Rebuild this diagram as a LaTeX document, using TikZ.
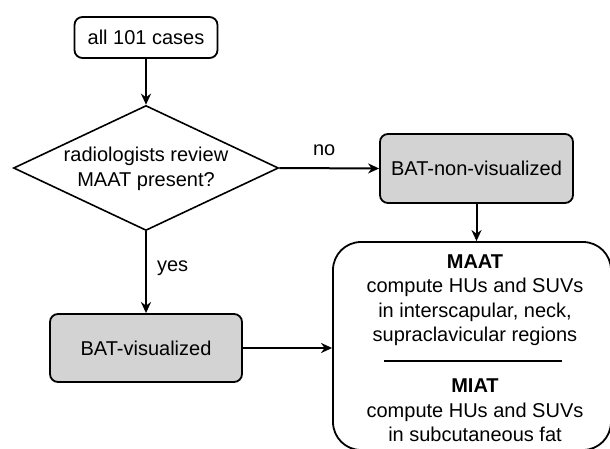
\documentclass[tikz,border=0pt]{standalone}
\usepackage{fontspec}
\setmainfont{Liberation Sans}
\usetikzlibrary{shapes.geometric,arrows.meta}
\definecolor{boxgray}{RGB}{211,211,211}
\tikzset{
  txt/.style={font=\fontsize{20}{24.5}\selectfont, align=center, inner sep=0pt},
  smallbox/.style={draw, line width=1.8pt, rounded corners=8pt, inner sep=0pt},
  graybox/.style={smallbox, fill=boxgray},
  arr/.style={line width=2pt, -{Stealth[length=11pt,width=10pt,inset=3.5pt]}},
}
\begin{document}
\begin{tikzpicture}[x=1pt,y=-1pt]
\useasboundingbox (0,0) rectangle (610,449);
\clip (0,0) rectangle (610,449);
% nodes
\node[smallbox, minimum width=143pt, minimum height=41pt, txt] (top) at (146,37.5) {all 101 cases};
\node[draw, diamond, line width=1.6pt, minimum width=265pt, minimum height=125pt, inner sep=0pt] (dia) at (146,168) {};
\node[txt] (diatext) at (146,169) {radiologists review\\MAAT present?};
\node[graybox, minimum width=193pt, minimum height=69pt, txt] (bnv) at (476.5,168.5) {BAT-non-visualized};
\node[graybox, minimum width=192pt, minimum height=68pt, txt] (bv) at (146,348) {BAT-visualized};
\node[draw, line width=1.8pt, rounded corners=28pt, minimum width=278pt, minimum height=208pt, inner sep=0pt] (big) at (472,346) {};
\node[txt] (maat) at (475,300) {\textbf{MAAT}\\compute HUs and SUVs\\in interscapular, neck,\\supraclavicular regions};
\node[txt] (miat) at (475,410.5) {\textbf{MIAT}\\compute HUs and SUVs\\in subcutaneous fat};
\coordinate (rl) at (384,361);
\coordinate (rr) at (562,361);
\draw[line width=2pt] (rl) -- (rr);
% connectors
\draw[arr] (top.south) -- (dia.north);
\draw[arr] (dia.east) -- node[txt, pos=0.45, above=12pt] (no) {no} (bnv.west);
\draw[arr] (dia.south) -- node[txt, right=10pt, pos=0.45] (yes) {yes} (bv.north);
\draw[arr] (bnv.south) -- (bnv.south |- big.north);
\draw[arr] (bv.east) -- (bv.east -| big.west);
\end{tikzpicture}
\end{document}
